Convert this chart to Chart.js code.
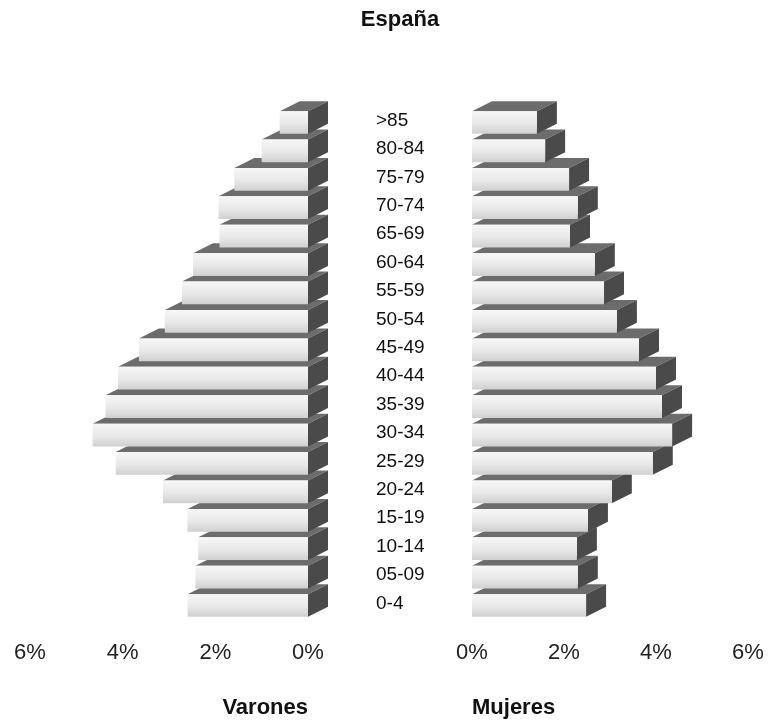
<!DOCTYPE html>
<html>
<head>
<meta charset="utf-8">
<script src="https://cdn.jsdelivr.net/npm/chart.js@4"></script>
<style>
  html, body { margin: 0; padding: 0; background: #ffffff; }
  #wrap { position: relative; width: 770px; height: 722px; }
  #wrap canvas { position: absolute; left: 0; top: 0; }
</style>
</head>
<body>
<div id="wrap">
  <canvas id="left" width="770" height="722"></canvas>
  <canvas id="right" width="770" height="722"></canvas>
</div>
<script>
// ---- data (bottom to top) ----
const ageGroups = ["0-4","05-09","10-14","15-19","20-24","25-29","30-34","35-39","40-44","45-49","50-54","55-59","60-64","65-69","70-74","75-79","80-84",">85"];
const varones = [2.60, 2.43, 2.37, 2.60, 3.13, 4.15, 4.65, 4.37, 4.10, 3.65, 3.09, 2.72, 2.48, 1.91, 1.93, 1.59, 1.00, 0.61];
const mujeres = [2.48, 2.30, 2.28, 2.52, 3.04, 3.93, 4.35, 4.13, 4.00, 3.63, 3.15, 2.87, 2.67, 2.13, 2.30, 2.11, 1.59, 1.41];
const axisMax = 6, axisStep = 2;
const titleText = "España";
const leftTitle = "Varones";
const rightTitle = "Mujeres";

const FONT = "'Liberation Sans', Arial, Helvetica, sans-serif";
const BAR_PCT = 0.8;
const DX = 20, DY = 10;
const TOP_COLOR = '#6c6c6c';
const SIDE_COLOR = '#4a4a4a';

function frontFill(ctx) {
  const chart = ctx.chart;
  const ys = chart.scales && chart.scales.y;
  if (!ys || !chart.chartArea || ctx.dataIndex === undefined) return '#e4e4e4';
  const c = ys.getPixelForValue(ctx.dataIndex);
  const step = Math.abs(ys.getPixelForValue(1) - ys.getPixelForValue(0));
  const h = step * BAR_PCT;
  if (!isFinite(c) || !isFinite(h) || h <= 0) return '#e4e4e4';
  const g = chart.ctx.createLinearGradient(0, c - h / 2, 0, c + h / 2);
  g.addColorStop(0, '#f7f7f7');
  g.addColorStop(0.55, '#e8e8e8');
  g.addColorStop(1, '#d0d0d0');
  return g;
}

const bar3d = {
  id: 'bar3d',
  beforeDatasetsDraw(chart) {
    const meta = chart.getDatasetMeta(0);
    const c = chart.ctx;
    c.save();
    meta.data.forEach((el) => {
      const p = el.getProps(['x', 'y', 'base', 'height'], true);
      const left = Math.min(p.x, p.base), right = Math.max(p.x, p.base);
      const top = p.y - p.height / 2, bottom = p.y + p.height / 2;
      c.fillStyle = TOP_COLOR;
      c.beginPath();
      c.moveTo(left, top);
      c.lineTo(right, top);
      c.lineTo(right + DX, top - DY);
      c.lineTo(left + DX, top - DY);
      c.closePath();
      c.fill();
      c.fillStyle = SIDE_COLOR;
      c.beginPath();
      c.moveTo(right, top);
      c.lineTo(right + DX, top - DY);
      c.lineTo(right + DX, bottom - DY);
      c.lineTo(right, bottom);
      c.closePath();
      c.fill();
    });
    c.restore();
  }
};

const CHART_TOP = 108.3;
const XAXIS_H = 102.3;

function xScale(min, max, titleTxt, align) {
  return {
    type: 'linear',
    min: min,
    max: max,
    grid: { display: false, drawTicks: true, tickLength: 20 },
    border: { display: false },
    ticks: {
      stepSize: axisStep,
      padding: 0,
      color: '#222',
      font: { family: FONT, size: 22 },
      callback: (v) => Math.abs(v) + '%'
    },
    title: {
      display: true,
      text: titleTxt,
      align: align,
      color: '#111',
      font: { family: FONT, size: 22, weight: 'bold' },
      padding: { top: 0, bottom: 1 }
    },
    afterFit(scale) { scale.height = XAXIS_H; }
  };
}

const common = {
  responsive: false,
  animation: false,
  events: [],
  indexAxis: 'y'
};

new Chart(document.getElementById('left'), {
  type: 'bar',
  data: {
    labels: ageGroups,
    datasets: [{
      data: varones.map(v => -v),
      backgroundColor: frontFill,
      borderWidth: 0,
      barPercentage: BAR_PCT,
      categoryPercentage: 1.0
    }]
  },
  options: Object.assign({}, common, {
    layout: { padding: { left: 30, right: 0, top: 0, bottom: 0 } },
    plugins: {
      legend: { display: false },
      tooltip: { enabled: false },
      title: {
        display: true,
        text: titleText,
        color: '#111',
        font: { family: FONT, size: 22, weight: 'bold' },
        padding: { top: 7, bottom: CHART_TOP - 7 - 26.4 }
      }
    },
    scales: {
      x: xScale(-axisMax, 0, leftTitle, 'end'),
      y: {
        type: 'category',
        position: 'right',
        reverse: true,
        grid: { display: false, drawTicks: false },
        border: { display: false },
        ticks: {
          padding: 68,
          labelOffset: -2,
          color: '#111',
          font: { family: FONT, size: 19 }
        },
        afterFit(scale) { scale.width = 770 - 308; }
      }
    }
  }),
  plugins: [bar3d]
});

new Chart(document.getElementById('right'), {
  type: 'bar',
  data: {
    labels: ageGroups,
    datasets: [{
      data: mujeres,
      backgroundColor: frontFill,
      borderWidth: 0,
      barPercentage: BAR_PCT,
      categoryPercentage: 1.0
    }]
  },
  options: Object.assign({}, common, {
    layout: { padding: { left: 472, right: 22, top: CHART_TOP, bottom: 0 } },
    plugins: { legend: { display: false }, tooltip: { enabled: false } },
    scales: {
      x: xScale(0, axisMax, rightTitle, 'start'),
      y: {
        type: 'category',
        reverse: true,
        display: false
      }
    }
  }),
  plugins: [bar3d]
});
</script>
</body>
</html>
